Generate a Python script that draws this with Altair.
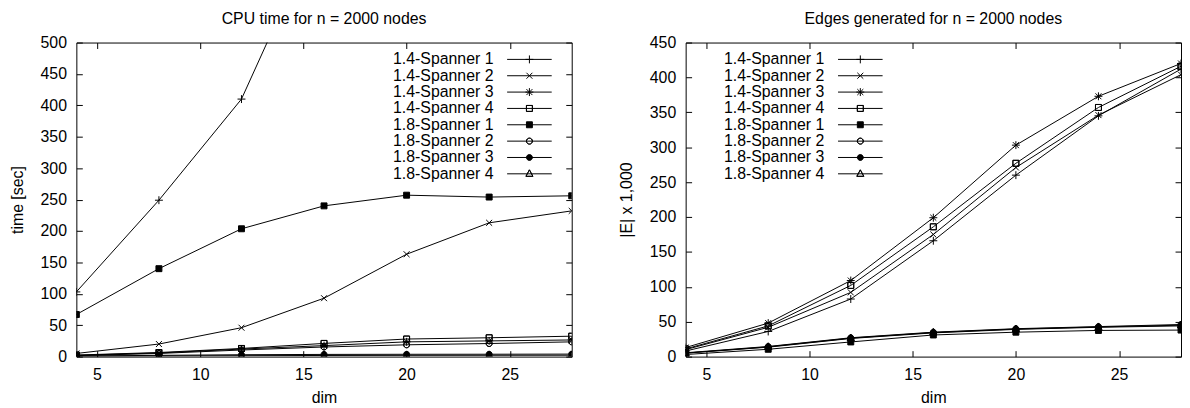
import altair as alt
import pandas as pd

dims = [4, 8, 12, 16, 20, 24, 28]
series_names = ["1.4-Spanner 1", "1.4-Spanner 2", "1.4-Spanner 3", "1.4-Spanner 4",
                "1.8-Spanner 1", "1.8-Spanner 2", "1.8-Spanner 3", "1.8-Spanner 4"]

# CPU time [sec]
cpu_14_s1 = [103, 249, 410, 700, 1000, 1300, 1600]
cpu_14_s2 = [5, 20, 46, 93, 163, 213, 232]
cpu_14_s3 = [2, 5.8, 12, 17.5, 23.5, 25, 26.5]
cpu_14_s4 = [2.5, 6.5, 13, 21, 28, 30, 32.5]
cpu_18_s1 = [67, 140, 203.5, 240, 257, 254, 256]
cpu_18_s2 = [1.5, 5, 10.5, 15.3, 18.8, 20.8, 23.5]
cpu_18_s3 = [1, 2, 3, 3.5, 3.7, 3.8, 4]
cpu_18_s4 = [0.5, 1, 1.5, 1.8, 2, 2.1, 2.2]

# Edges |E| x 1,000
edges_14_s1 = [8, 36, 82.5, 166, 260, 345, 412]
edges_14_s2 = [10, 42, 92, 175, 271, 346, 404]
edges_14_s3 = [13, 48, 109, 199, 303, 373, 420]
edges_14_s4 = [11, 44, 102, 186, 277, 357, 416]
edges_18_s1 = [3, 10.5, 21, 31, 35, 37.5, 38]
edges_18_s2 = [5, 13.5, 26, 34, 39, 42, 44]
edges_18_s3 = [5.5, 14.5, 27, 35, 40, 43, 46]
edges_18_s4 = [5, 14, 26.5, 34.5, 39.5, 42.5, 45]

x_ticks = [5, 10, 15, 20, 25]
cpu_ticks = [0, 50, 100, 150, 200, 250, 300, 350, 400, 450, 500]
edge_ticks = [0, 50, 100, 150, 200, 250, 300, 350, 400, 450]


# marker glyphs (gnuplot style); open shapes are drawn as cancelling loops
def glyphs(dx):
    def p(x):
        return f"{x + dx:g}"
    return [
        f"M{p(-4)},0L{p(4)},0M{p(0)},-4L{p(0)},4",
        f"M{p(-3)},-3L{p(3)},3M{p(-3)},3L{p(3)},-3",
        f"M{p(-4)},0L{p(4)},0M{p(0)},-4L{p(0)},4M{p(-3)},-3L{p(3)},3M{p(-3)},3L{p(3)},-3",
        f"M{p(-3)},-3L{p(3)},-3L{p(3)},3L{p(-3)},3ZM{p(-3)},-3L{p(-3)},3L{p(3)},3L{p(3)},-3Z",
        f"M{p(-3)},-3L{p(3)},-3L{p(3)},3L{p(-3)},3Z",
        f"M{p(-3)},0A3,3,0,1,0,{p(3)},0A3,3,0,1,0,{p(-3)},0ZM{p(-3)},0A3,3,0,1,1,{p(3)},0A3,3,0,1,1,{p(-3)},0Z",
        f"M{p(-3)},0A3,3,0,1,0,{p(3)},0A3,3,0,1,0,{p(-3)},0Z",
        f"M{p(0)},-4L{p(3.5)},2.5L{p(-3.5)},2.5ZM{p(0)},-4L{p(-3.5)},2.5L{p(3.5)},2.5Z",
    ]


LEG_DX = 44.3
marker_paths = glyphs(0)
legend_paths = [f"M{LEG_DX - 22.5:g},0L{LEG_DX + 22.5:g},0" + g for g in glyphs(LEG_DX)]

FONT = "Liberation Sans"


def make_df(values_lists):
    rows = []
    for name, vals in zip(series_names, values_lists):
        for d, v in zip(dims, vals):
            rows.append({"dim": d, "value": v, "series": name, "series_leg": name})
    return pd.DataFrame(rows)


def panel(df, title, ytitle, ymax, yticks, legend_x, legend_y):
    xs = alt.Scale(domain=[4, 28], nice=False, zero=False)
    ys = alt.Scale(domain=[0, ymax], nice=False, zero=False)
    lines = alt.Chart(df).mark_line(color="black", strokeWidth=1, clip=True).encode(
        x=alt.X("dim:Q", scale=xs, axis=alt.Axis(
            orient="bottom", values=x_ticks, offset=-6, tickSize=6, labelPadding=10,
            domain=False, grid=False, title="dim", titlePadding=7, labelFlush=False)),
        y=alt.Y("value:Q", scale=ys, axis=alt.Axis(
            orient="left", values=yticks, offset=-6, tickSize=6, labelPadding=10,
            domain=False, grid=False, title=ytitle, titlePadding=15, labelFlush=False)),
        detail="series:N",
    )
    points = alt.Chart(df).mark_point(
        filled=True, color="black", stroke="black", strokeWidth=1, size=4, opacity=1, clip=True
    ).encode(
        x=alt.X("dim:Q", scale=xs, axis=alt.Axis(
            orient="top", values=x_ticks, offset=-6, tickSize=6, labels=False,
            domain=False, grid=False, title=None)),
        y=alt.Y("value:Q", scale=ys, axis=alt.Axis(
            orient="right", values=yticks, offset=-6, tickSize=6, labels=False,
            domain=False, grid=False, title=None)),
        shape=alt.Shape("series:N", scale=alt.Scale(domain=series_names, range=marker_paths), legend=None),
    )
    leg = alt.Chart(df).transform_filter("datum.dim < 0").mark_point(
        filled=True, color="black", stroke="black", strokeWidth=1, size=4, opacity=1
    ).encode(
        x=alt.X("dim:Q", scale=xs, axis=None),
        y=alt.Y("value:Q", scale=ys, axis=None),
        shape=alt.Shape("series_leg:N", scale=alt.Scale(domain=series_names, range=legend_paths),
                        legend=alt.Legend(title=None, orient="none", legendX=legend_x, legendY=legend_y,
                                          labelAlign="right", labelOffset=0, symbolOffset=0,
                                          symbolSize=4, symbolOpacity=1, symbolStrokeWidth=1,
                                          labelFontSize=16, labelFont=FONT, labelColor="black",
                                          rowPadding=0.5, padding=0, labelLimit=0)),
    )
    return alt.layer(lines, points, leg).resolve_scale(shape="independent").properties(
        width=500, height=317,
        title=alt.TitleParams(title, fontSize=16, fontWeight="normal", font=FONT, color="black",
                              anchor="middle", baseline="bottom", offset=0, dy=8),
    )


left = panel(make_df([cpu_14_s1, cpu_14_s2, cpu_14_s3, cpu_14_s4,
                      cpu_18_s1, cpu_18_s2, cpu_18_s3, cpu_18_s4]),
             "CPU time for n = 2000 nodes", "time [sec]", 500, cpu_ticks, 405, 9)
right = panel(make_df([edges_14_s1, edges_14_s2, edges_14_s3, edges_14_s4,
                       edges_18_s1, edges_18_s2, edges_18_s3, edges_18_s4]),
              "Edges generated for n = 2000 nodes", "|E| x 1,000", 450, edge_ticks, 124, 9)

chart = alt.hconcat(left, right, spacing=45).resolve_scale(shape="independent").properties(
    padding={"left": 0, "top": 0, "right": 0, "bottom": 0}
).configure(font=FONT).configure_axis(
    labelFont=FONT, titleFont=FONT, labelFontSize=16, titleFontSize=16, titleFontWeight="normal",
    labelColor="black", titleColor="black", tickColor="black", tickWidth=1,
).configure_view(stroke="black", strokeWidth=1)

chart.save("out.html", embed_options={"renderer": "svg", "actions": False})
